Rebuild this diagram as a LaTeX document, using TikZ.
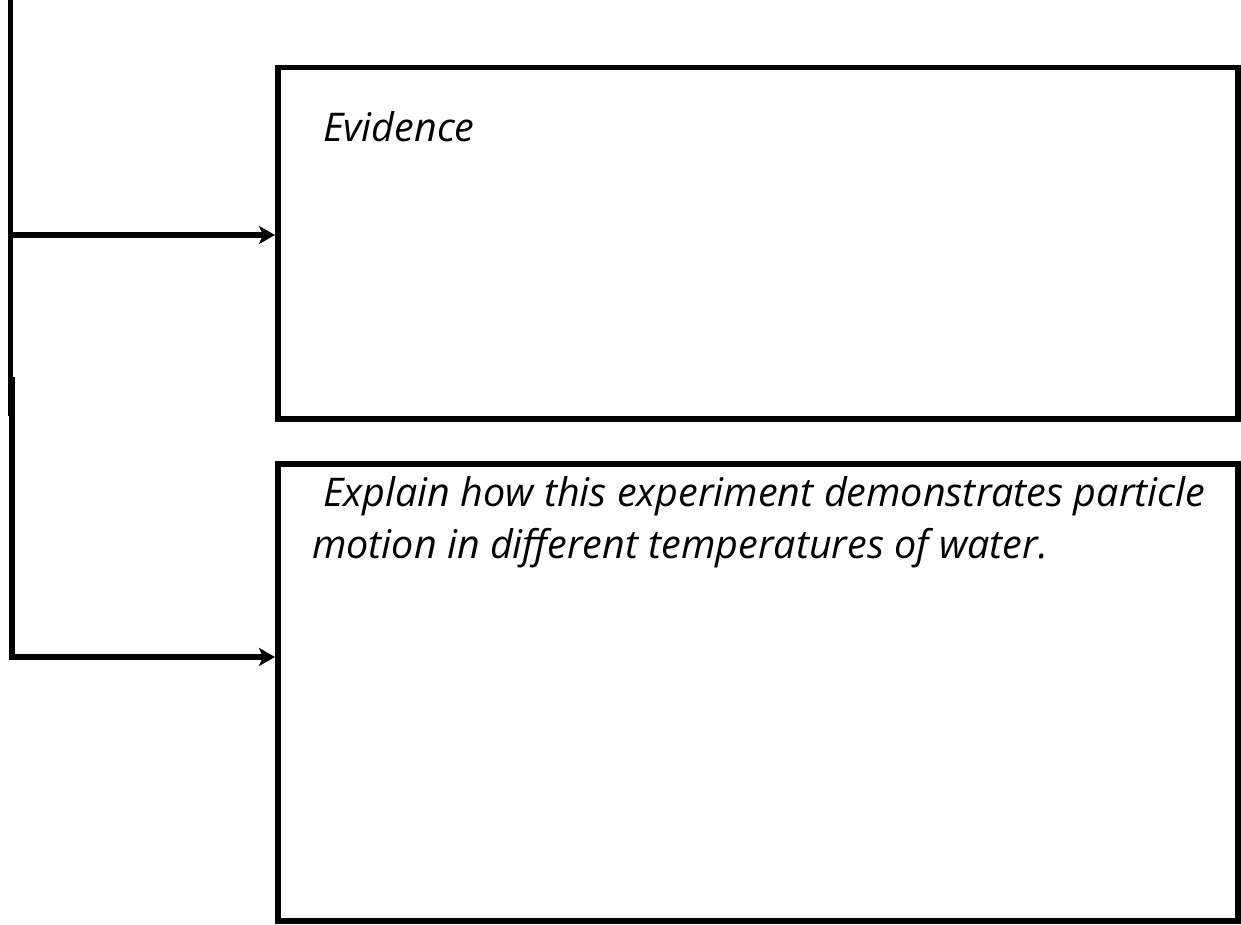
\documentclass[tikz,border=0pt]{standalone}
\usepackage{fontspec}
\setmainfont{Open Sans}
\usetikzlibrary{arrows.meta}
\begin{document}
\begin{tikzpicture}[x=1pt,y=-1pt,
  panel/.style={draw, line width=5.5pt, inner sep=0pt, anchor=north west},
  link/.style={line width=5.5pt, line join=miter, -{Stealth[length=16pt,width=18pt,inset=4pt]}},
  rail/.style={line width=5pt},
  lbl/.style={font=\itshape\fontsize{39.5}{52}\selectfont, inner sep=0pt, anchor=base west, align=left}]
\useasboundingbox (0,0) rectangle (1241,925);
\node[panel, minimum width=960pt, minimum height=351pt] (ev) at (275,65) {};
\node[panel, minimum width=960pt, minimum height=457pt] (ex) at (275,461) {};
\coordinate (t1) at (10,0);
\coordinate (b1) at (10,416);
\coordinate (j1) at (10,235);
\coordinate (t2) at (12,377);
\coordinate (c2) at (12,657);
\draw[rail] (t1) -- (b1);
\draw[link] (j1) -- (ev.west |- j1);
\draw[link] (t2) -- (c2) -- (ex.west |- c2);
\node[lbl] (evl) at (323,142) {Evidence};
\node[lbl] (exl) at (312,558) {\hspace*{11pt}Explain how this experiment demonstrates particle\\motion in different temperatures of water.};
\end{tikzpicture}
\end{document}
